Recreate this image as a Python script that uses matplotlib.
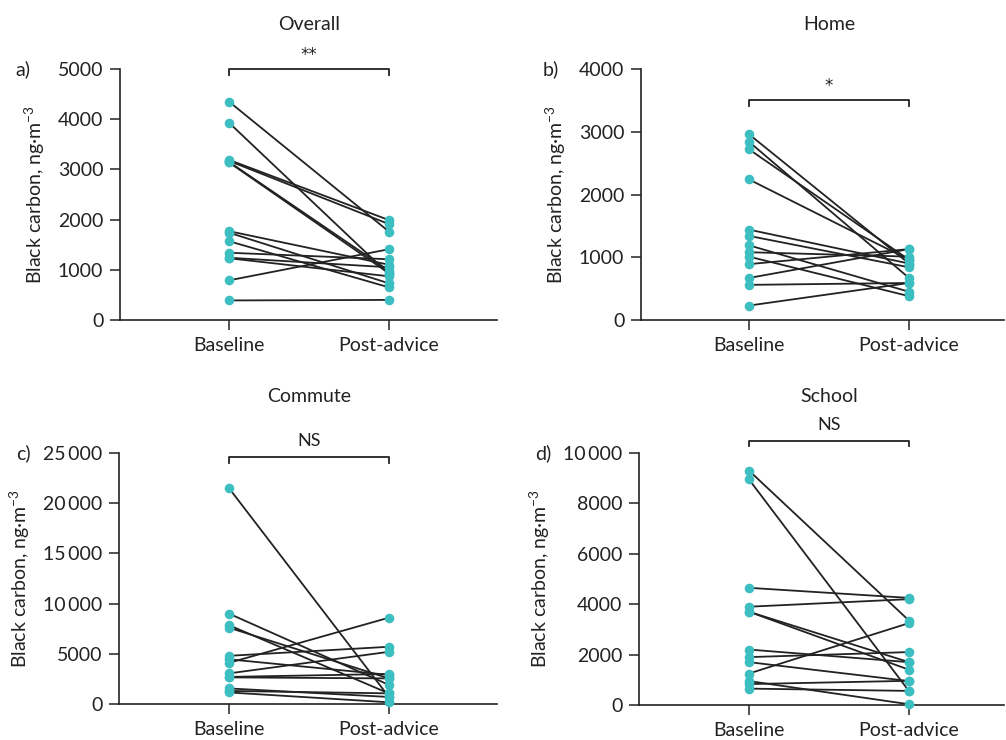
import matplotlib
import matplotlib.pyplot as plt

matplotlib.use("Agg")

plt.rcParams['font.family'] = ['Lato', 'DejaVu Sans']
plt.rcParams['mathtext.fontset'] = 'custom'
plt.rcParams['mathtext.rm'] = 'Lato'
plt.rcParams['mathtext.it'] = 'Lato:italic'

groups = ["Baseline", "Post-advice"]
ylabel = "Black carbon, ng\u00b7m$^{-3}$"
teal = "#3dbfc2"

# panel a) Overall
overall_base = [4350, 3930, 3190, 3170, 3150, 3140, 1770, 1740, 1570, 1340, 1240, 1230, 790, 390]
overall_post = [1760, 910, 1990, 1910, 980, 930, 1100, 730, 650, 1210, 1050, 870, 1410, 400]

# panel b) Home
home_base = [2960, 2840, 2720, 2240, 1440, 1340, 1190, 1080, 1010, 890, 670, 560, 230]
home_post = [900, 670, 960, 960, 900, 840, 450, 1010, 380, 1130, 1130, 590, 590]

# panel c) Commute
commute_base = [21500, 9000, 7850, 7600, 4800, 4450, 4100, 3050, 2700, 2650, 1550, 1300, 1150]
commute_post = [700, 1900, 1050, 2550, 5700, 2900, 8600, 5200, 2990, 2550, 700, 1060, 170]

# panel d) School
school_base = [9300, 8950, 4650, 3900, 3700, 3700, 2200, 1900, 1700, 1250, 950, 830, 650]
school_post = [3350, 550, 4250, 4200, 1700, 1400, 1700, 2100, 950, 3250, 30, 960, 560]

# label, title, base, post, ymax, step, sig, bracket y, axes box (px), label x, title y
panels = [
    ("a)", "Overall", overall_base, overall_post, 5000, 1000, "**", 5000,
     [120, 69, 497, 320], 15, 24),
    ("b)", "Home", home_base, home_post, 4000, 1000, "*", 3500,
     [641, 69, 1004, 320], 543, 24),
    ("c)", "Commute", commute_base, commute_post, 25000, 5000, "NS", 24600,
     [119, 453, 497, 704], 16, 397),
    ("d)", "School", school_base, school_post, 10000, 2000, "NS", 10480,
     [639, 453, 1004, 705], 535, 397),
]

W, H = 1006, 740
fig = plt.figure(figsize=(W / 100, H / 100), dpi=100)


def fmt(v):
    v = int(v)
    if v >= 10000:
        return "{:,}".format(v).replace(",", "\u2009")
    return str(v)


for lab, title, base, post, ymax, step, sig, sig_y, box, lab_x, title_y in panels:
    x0, y0, x1, y1 = box
    ax = fig.add_axes([x0 / W, (H - y1) / H, (x1 - x0) / W, (y1 - y0) / H])
    bx = 229 if x0 < 500 else 749
    scale = 160.0
    ax.set_xlim((x0 - bx) / scale, (x1 - bx) / scale)
    ax.set_ylim(0, ymax)
    for b, p in zip(base, post):
        ax.plot([0, 1], [b, p], color="#222222", lw=1.3, zorder=2, clip_on=False)
    ax.scatter([0] * len(base), base, s=48, color=teal, zorder=3, clip_on=False, linewidths=0)
    ax.scatter([1] * len(post), post, s=48, color=teal, zorder=3, clip_on=False, linewidths=0)

    ticks = list(range(0, ymax + 1, step))
    ax.set_yticks(ticks)
    ax.set_yticklabels([fmt(t) for t in ticks])
    ax.set_xticks([0, 1])
    ax.set_xticklabels(groups)
    ax.spines['top'].set_visible(False)
    ax.spines['right'].set_visible(False)
    for s in ['left', 'bottom']:
        ax.spines[s].set_linewidth(1.2)
        ax.spines[s].set_color("#222222")
    ax.tick_params(axis='both', length=7, width=1.2, color="#333333",
                   labelsize=14, labelcolor="#222222", pad=5)
    ax.set_ylabel(ylabel, fontsize=14, color="#222222", labelpad=8)

    # significance bracket
    tick_h = ymax * 0.022
    ax.plot([0, 0, 1, 1], [sig_y - tick_h, sig_y, sig_y, sig_y - tick_h],
            color="#222222", lw=1.3, clip_on=False)
    if sig == "NS":
        ax.text(0.5, sig_y + ymax * 0.03, sig, ha='center', va='bottom',
                fontsize=13, color="#222222")
    else:
        ax.text(0.5, sig_y + ymax * 0.02, sig, ha='center', va='bottom',
                fontsize=12, color="#222222", family='DejaVu Sans')

    cx = (bx + 80.5) / W
    fig.text(cx, (H - title_y) / H, title, ha='center', va='center',
             fontsize=14, color="#222222")
    fig.text(lab_x / W, (H - y0) / H, lab,
             fontsize=14, color="#222222", ha='left', va='center')

fig.savefig("out.png", dpi=100)
